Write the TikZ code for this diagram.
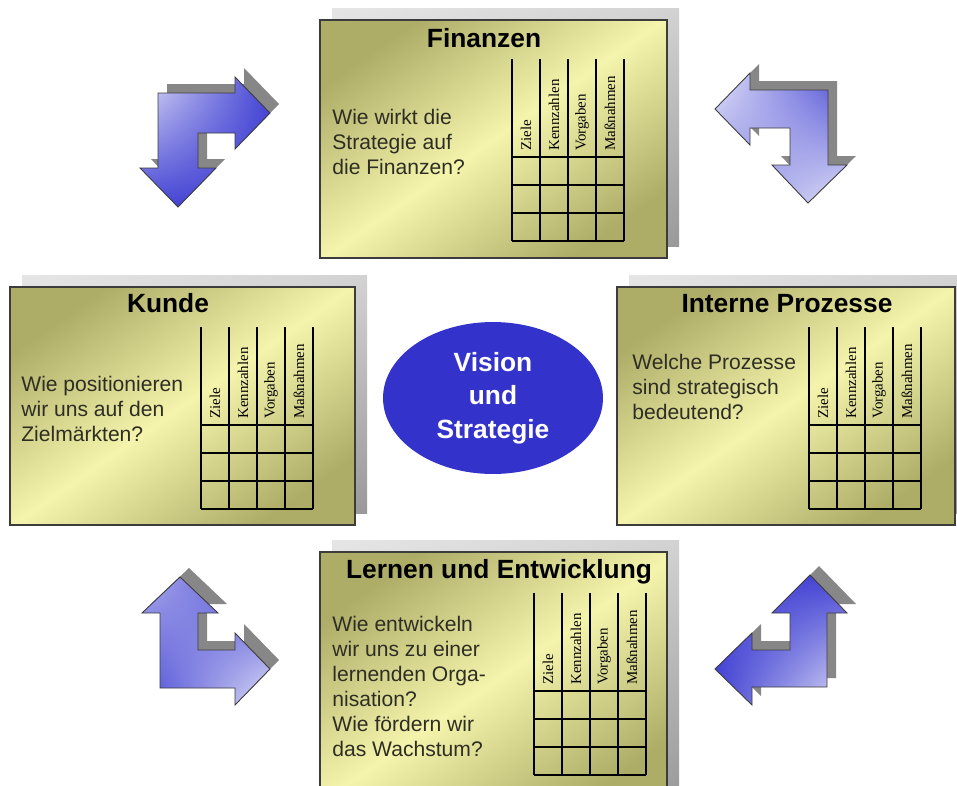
\documentclass[tikz,border=0pt]{standalone}
\usepackage{fontspec}
\setmainfont{Liberation Sans}
\newfontfamily\bscserif{Liberation Serif}
\usetikzlibrary{shapes.geometric, shadings}
\definecolor{bscolive}{HTML}{ADAD68}
\definecolor{bsclight}{HTML}{F4F4AC}
\definecolor{bscblue}{HTML}{3333CC}
\definecolor{bscarrow}{HTML}{4343D4}
\definecolor{bscarrowlight}{HTML}{E4E4F8}
\definecolor{bscedge}{HTML}{3C3C3C}
\definecolor{bscshadow}{HTML}{878787}
\definecolor{bsctext}{HTML}{2E2E24}

\tikzset{
  cardshadow/.style={upper left=gray!20, upper right=gray!35, lower left=gray!45, lower right=gray!80},
  card/.style={draw=bscedge, line width=0.6pt, left color=bscolive, right color=bscolive, middle color=bsclight, shading angle=35},
  cardtitle/.style={anchor=base, inner sep=0, font=\bfseries\fontsize{15}{18}\selectfont},
  question/.style={anchor=north west, inner sep=0, align=left, text=bsctext, font=\fontsize{12}{14.2}\selectfont},
  bscgrid/.style={line width=0.7pt},
  collabel/.style={rotate=90, anchor=west, inner sep=0, font=\bscserif\fontsize{8.5}{10}\selectfont},
  arrowshade/.style={draw=bscedge, line width=0.5pt}
}

\begin{document}
\begin{tikzpicture}[x=0.02cm, y=-0.02cm]
  \useasboundingbox (0,0) rectangle (957,785);
  \clip (0,0) rectangle (957,785);
  \fill[white] (0,0) rectangle (957,785);

  \shade[cardshadow] (332,8) rectangle (679,246);
  \draw[card] (320,20) rectangle (667,258);
  \shade[cardshadow] (22,275) rectangle (367,513);
  \draw[card] (10,287) rectangle (355,525);
  \shade[cardshadow] (629,275) rectangle (967,513);
  \draw[card] (617,287) rectangle (955,525);
  \shade[cardshadow] (332,540) rectangle (679,800);
  \draw[card] (320,552) rectangle (667,812);

  \node[cardtitle] (fintitle) at (484,47) {Finanzen};
  \node[cardtitle] (kuntitle) at (168,312) {Kunde};
  \node[cardtitle] (inttitle) at (787,312) {Interne Prozesse};
  \node[cardtitle] (lertitle) at (499,578) {Lernen und Entwicklung};

  \node[question] (finq) at (332,109) {Wie wirkt die\\Strategie auf\\die Finanzen?};
  \node[question] (kunq) at (21,376) {Wie positionieren\\wir uns auf den\\Zielmärkten?};
  \node[question] (intq) at (632,354) {Welche Prozesse\\sind strategisch\\bedeutend?};
  \node[question] (lerq) at (332,616) {Wie entwickeln\\wir uns zu einer\\lernenden Orga-\\nisation?\\Wie fördern wir\\das Wachstum?};

  \foreach \tb/\x/\y in {fin/512/59, kun/201/327, int/809/327, ler/534/593} {
    \foreach \c in {0,...,4}
      \draw[bscgrid] (\x+\c*28,\y) -- (\x+\c*28,\y+182);
    \foreach \r in {0,...,3}
      \draw[bscgrid] (\x,\y+98+\r*28) -- (\x+112,\y+98+\r*28);
    \foreach \t [count=\i] in {Ziele, Kennzahlen, Vorgaben, Maßnahmen}
      \node[collabel] (\tb-\i) at (\x+\i*28-14,\y+92) {\t};
  }

  \node[ellipse, fill=bscblue, minimum width=4.4cm, minimum height=3.04cm, align=center, text=white,
    font=\bfseries\fontsize{15}{19}\selectfont] (vision) at (493,398) {Vision\\und\\Strategie};

  \fill[bscshadow] (279,104) -- (244,68) -- (244,84) -- (167,84) -- (167,159) -- (151,159) -- (187,198) -- (225,159) -- (207,159) -- (207,124) -- (244,124) -- (244,140) -- cycle;
  \draw[arrowshade, upper left=bscarrowlight, upper right=bscarrow, lower left=bscarrow, lower right=bscarrow]
    (270,113) -- (235,77) -- (235,93) -- (158,93) -- (158,168) -- (140,168) -- (178,207) -- (216,168) -- (198,168) -- (198,133) -- (235,133) -- (235,149) -- cycle;

  \fill[bscshadow] (724,100) -- (759,64) -- (759,81) -- (837,81) -- (837,156) -- (856,156) -- (817,194) -- (781,156) -- (799,156) -- (799,119) -- (759,119) -- (759,136) -- cycle;
  \draw[arrowshade, upper left=bscarrowlight, upper right=bscarrow, lower left=bscarrow!60!bscarrowlight, lower right=bscarrowlight]
    (715,109) -- (750,73) -- (750,90) -- (828,90) -- (828,165) -- (847,165) -- (808,203) -- (772,165) -- (790,165) -- (790,128) -- (750,128) -- (750,145) -- cycle;

  \fill[bscshadow] (189,568) -- (227,604) -- (207,604) -- (207,641) -- (244,641) -- (244,624) -- (279,660) -- (244,696) -- (244,679) -- (169,679) -- (169,604) -- (151,604) -- cycle;
  \draw[arrowshade, upper left=bscarrow!35!bscarrowlight, upper right=bscarrow, lower left=bscarrow, lower right=bscarrowlight]
    (180,577) -- (218,613) -- (198,613) -- (198,650) -- (235,650) -- (235,633) -- (270,669) -- (235,705) -- (235,688) -- (160,688) -- (160,613) -- (142,613) -- cycle;

  \fill[bscshadow] (819,566) -- (856,604) -- (836,604) -- (836,678) -- (761,678) -- (761,696) -- (724,660) -- (761,624) -- (761,641) -- (799,641) -- (799,604) -- (781,604) -- cycle;
  \draw[arrowshade, upper left=bscarrow, upper right=bscarrow, lower left=bscarrow, lower right=bscarrowlight]
    (810,575) -- (847,613) -- (827,613) -- (827,687) -- (752,687) -- (752,705) -- (715,669) -- (752,633) -- (752,650) -- (790,650) -- (790,613) -- (772,613) -- cycle;
\end{tikzpicture}
\end{document}
